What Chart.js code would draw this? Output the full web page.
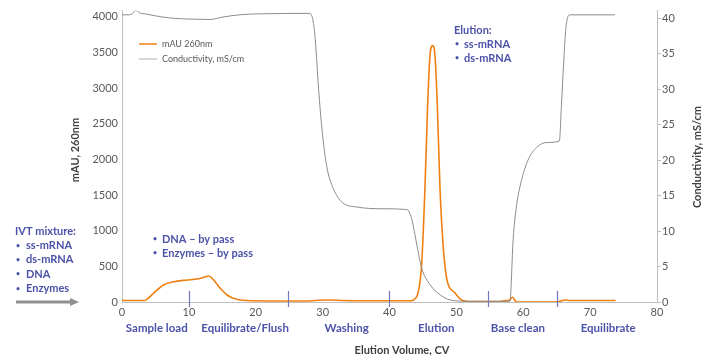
<!DOCTYPE html>
<html>
<head>
<meta charset="utf-8">
<script src="https://cdn.jsdelivr.net/npm/chart.js@4.4.1/dist/chart.umd.min.js"></script>
<style>
  html, body { margin: 0; padding: 0; background: #fff; }
</style>
</head>
<body>
<canvas id="elutionChart" width="713" height="358"></canvas>
<script>
// UV absorbance trace (mAU at 260 nm) vs elution volume (CV)
const uvVolume = [0, 3.2, 3.6, 4.7, 6.2, 7.7, 9.7, 11.2, 12.2, 13.0, 13.7, 14.7, 15.7, 17.1, 18.6, 22, 28, 29.5, 31.1, 33, 36, 40, 43.2, 43.6, 44.3, 44.8, 45.3, 45.7, 46.06, 46.45, 46.8, 47.15, 47.55, 48.05, 48.55, 49.8, 50.8, 52.3, 56.5, 57.3, 57.9, 58.4, 58.8, 59.2, 64.8, 65.5, 66.2, 67, 73.8];
const uvMau = [20, 20, 30, 121, 238, 284, 308, 322, 345, 364, 308, 191, 98, 38, 20, 15, 15, 25, 28, 22, 18, 18, 18, 30, 144, 517, 1590, 2755, 3455, 3594, 3455, 2755, 1594, 755, 336, 126, 28, 5, 5, 20, 25, 66, 15, 0, 0, 10, 28, 20, 20];

// Conductivity trace (mS/cm) vs elution volume (CV)
const condVolume = [0, 1.0, 1.6, 2.05, 2.6, 3.7, 6, 8, 10.2, 13.2, 15.1, 18.1, 21, 24.7, 28.1, 28.6, 28.9, 29.4, 29.9, 30.6, 31.6, 33.0, 35.1, 39.0, 42.6, 43.3, 44.1, 44.8, 46.1, 47.6, 49.0, 52, 58.0, 58.5, 59.0, 59.8, 60.8, 62.0, 63.5, 65.4, 65.7, 66.1, 66.4, 67.0, 73.7];
const condMs = [40.5, 40.5, 40.7, 41.2, 40.8, 40.6, 40.2, 40.0, 39.9, 39.85, 40.2, 40.55, 40.65, 40.7, 40.7, 39.5, 37.0, 30.0, 24.4, 19.2, 16.0, 14.0, 13.4, 13.15, 13.05, 11.8, 8.0, 4.8, 2.4, 1.0, 0.3, 0.1, 0.1, 9.0, 13.6, 17.4, 20.2, 21.8, 22.5, 22.7, 27.6, 34.7, 38.9, 40.5, 40.5];

// process phases: boundary marks and label centres (CV)
const phaseMarks = [10, 24.8, 39.9, 54.8, 65];
const phaseNames = ['Sample load', 'Equilibrate/Flush', 'Washing', 'Elution', 'Base clean', 'Equilibrate'];
const phaseCenters = [5.2, 18.4, 33.6, 47.0, 59.2, 72.7];

const leftTicks = [0, 500, 1000, 1500, 2000, 2500, 3000, 3500, 4000];
const rightTicks = [0, 5, 10, 15, 20, 25, 30, 35, 40];

const FONT = 'Lato, "Open Sans", sans-serif';
const BLUE = '#4b52a8';
const ORANGE = '#f07f12';
const GREY = '#8c8c8c';

const extras = {
  id: 'extras',
  afterDatasetsDraw(chart) {
    const ctx = chart.ctx;
    const x = chart.scales.x;
    const area = chart.chartArea;
    ctx.save();

    // phase separators
    ctx.strokeStyle = '#7177bb';
    ctx.lineWidth = 1.2;
    phaseMarks.forEach(v => {
      const px = Math.round(x.getPixelForValue(v)) + 0.5;
      ctx.beginPath();
      ctx.moveTo(px, area.bottom - 11);
      ctx.lineTo(px, area.bottom + 5);
      ctx.stroke();
    });

    // phase labels
    ctx.fillStyle = BLUE;
    ctx.font = 'bold 11.5px ' + FONT;
    ctx.textAlign = 'center';
    ctx.textBaseline = 'middle';
    phaseNames.forEach((n, i) => {
      ctx.fillText(n, x.getPixelForValue(phaseCenters[i]), 328);
    });

    // legend
    ctx.lineWidth = 1.5;
    ctx.strokeStyle = ORANGE;
    ctx.beginPath(); ctx.moveTo(139, 44); ctx.lineTo(157, 44); ctx.stroke();
    ctx.strokeStyle = '#c8c8c8';
    ctx.beginPath(); ctx.moveTo(139, 59); ctx.lineTo(157, 59); ctx.stroke();
    ctx.fillStyle = '#595959';
    ctx.font = '9px ' + FONT;
    ctx.textAlign = 'left';
    ctx.fillText('mAU 260nm', 162, 44);
    ctx.fillText('Conductivity, mS/cm', 162, 59);

    // annotation blocks
    ctx.fillStyle = BLUE;
    const block = (title, items, bx, tx, y0, step) => {
      let y = y0;
      if (title) {
        ctx.font = 'bold 11px ' + FONT;
        ctx.fillText(title, bx, y);
        y += step;
      }
      items.forEach(t => {
        ctx.font = 'bold 7px ' + FONT;
        ctx.fillText('\u2022', bx + 1, y);
        ctx.font = 'bold 11px ' + FONT;
        ctx.fillText(t, tx, y);
        y += step;
      });
    };
    block('IVT mixture:', ['ss-mRNA', 'ds-mRNA', 'DNA', 'Enzymes'], 15, 26, 231, 14.4);
    block(null, ['DNA \u2013 by pass', 'Enzymes \u2013 by pass'], 152, 162, 239, 14);
    block('Elution:', ['ss-mRNA', 'ds-mRNA'], 454, 464, 30, 14);

    // feed arrow
    ctx.strokeStyle = '#8f8f8f';
    ctx.fillStyle = '#8f8f8f';
    ctx.lineWidth = 3;
    ctx.beginPath(); ctx.moveTo(16, 302); ctx.lineTo(72, 302); ctx.stroke();
    ctx.beginPath(); ctx.moveTo(70, 298); ctx.lineTo(79, 302); ctx.lineTo(70, 306); ctx.closePath(); ctx.fill();

    // axis titles
    ctx.fillStyle = '#404040';
    ctx.font = 'bold 11px ' + FONT;
    ctx.textAlign = 'center';
    ctx.fillText('Elution Volume, CV', 402, 350);
    ctx.save();
    ctx.translate(75, 150);
    ctx.rotate(-Math.PI / 2);
    ctx.fillText('mAU, 260nm', 0, 0);
    ctx.restore();
    ctx.save();
    ctx.translate(697, 157);
    ctx.rotate(-Math.PI / 2);
    ctx.fillText('Conductivity, mS/cm', 0, 0);
    ctx.restore();

    ctx.restore();
  }
};

const toPoints = (xs, ys) => xs.map((v, i) => ({ x: v, y: ys[i] }));

new Chart(document.getElementById('elutionChart'), {
  type: 'line',
  data: {
    datasets: [{
      label: 'Conductivity, mS/cm',
      data: toPoints(condVolume, condMs),
      yAxisID: 'y1',
      borderColor: GREY,
      borderWidth: 1,
      pointRadius: 0,
      cubicInterpolationMode: 'monotone',
      fill: false
    }, {
      label: 'mAU 260nm',
      data: toPoints(uvVolume, uvMau),
      yAxisID: 'y',
      borderColor: ORANGE,
      borderWidth: 1.6,
      pointRadius: 0,
      cubicInterpolationMode: 'monotone',
      fill: false
    }]
  },
  options: {
    responsive: false,
    animation: false,
    layout: { padding: { left: 62, top: 10, right: 0, bottom: 0 } },
    plugins: { legend: { display: false }, tooltip: { enabled: false } },
    scales: {
      x: {
        type: 'linear',
        min: 0, max: 80,
        grid: { display: false, drawTicks: false },
        border: { color: '#bfbfbf' },
        ticks: { stepSize: 10, padding: 4, color: '#595959', font: { family: FONT, size: 11 } },
        afterFit: s => { s.height = 56; }
      },
      y: {
        position: 'left',
        min: 0, max: 4085,
        grid: { display: false, drawTicks: false },
        border: { color: '#bfbfbf' },
        ticks: { padding: 4, color: '#595959', font: { family: FONT, size: 11 }, callback: v => String(v) },
        afterBuildTicks: s => { s.ticks = leftTicks.map(v => ({ value: v })); },
        afterFit: s => { s.width = 60; }
      },
      y1: {
        position: 'right',
        min: 0, max: 41.1,
        grid: { display: true, drawOnChartArea: false, drawTicks: true, tickLength: 4, color: '#bfbfbf' },
        border: { color: '#bfbfbf' },
        ticks: { padding: 1, color: '#595959', font: { family: FONT, size: 11 } },
        afterBuildTicks: s => { s.ticks = rightTicks.map(v => ({ value: v })); },
        afterFit: s => { s.width = 56; }
      }
    }
  },
  plugins: [extras]
});
</script>
</body>
</html>
